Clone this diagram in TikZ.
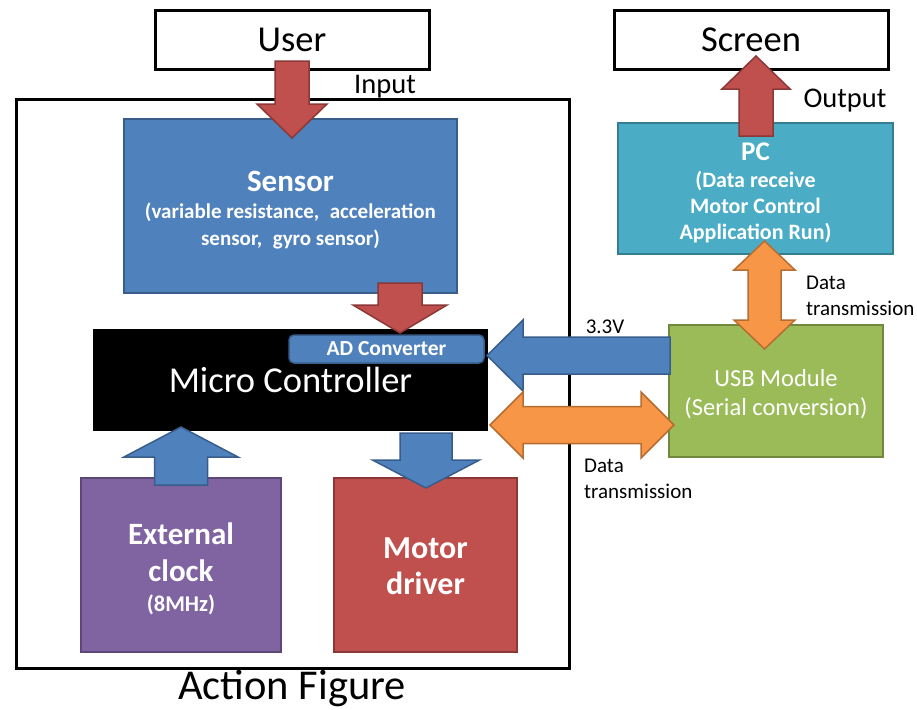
\documentclass[tikz,border=0pt]{standalone}
\usepackage{fontspec}
\setmainfont{Carlito}
\usetikzlibrary{calc,shadows}

\definecolor{blaufill}{HTML}{4F81BD}
\definecolor{blaurand}{HTML}{385D8A}
\definecolor{rotfill}{HTML}{C0504D}
\definecolor{rotrand}{HTML}{8C3836}
\definecolor{lilafill}{HTML}{8064A2}
\definecolor{lilarand}{HTML}{5C4776}
\definecolor{gruenfill}{HTML}{9BBB59}
\definecolor{gruenrand}{HTML}{71893F}
\definecolor{tuerkisfill}{HTML}{4BACC6}
\definecolor{tuerkisrand}{HTML}{357D91}
\definecolor{orangefill}{HTML}{F79646}
\definecolor{orangerand}{HTML}{B66D31}

\newcommand{\gross}{\fontsize{31}{37}\selectfont}

% Blockpfeil: [Stil]{Anfang}{Spitze}{halbe Schaftbreite}{halbe Kopfbreite}{Kopflaenge}
\newcommand{\blockpfeil}[6][]{%
  \coordinate (bp-a) at #2;
  \coordinate (bp-b) at #3;
  \coordinate (bp-h) at ($(bp-b)!#6!(bp-a)$);
  \draw[#1] ($(bp-a)!#4!90:(bp-b)$) -- ($(bp-h)!#4!90:(bp-b)$) -- ($(bp-h)!#5!90:(bp-b)$)
    -- (bp-b) -- ($(bp-h)!#5!-90:(bp-b)$) -- ($(bp-h)!#4!-90:(bp-b)$) -- ($(bp-a)!#4!-90:(bp-b)$) -- cycle;
}
% Doppelpfeil: [Stil]{Spitze 1}{Spitze 2}{halbe Schaftbreite}{halbe Kopfbreite}{Kopflaenge}
\newcommand{\doppelpfeil}[6][]{%
  \coordinate (dp-a) at #2;
  \coordinate (dp-b) at #3;
  \coordinate (dp-h) at ($(dp-a)!#6!(dp-b)$);
  \coordinate (dp-k) at ($(dp-b)!#6!(dp-a)$);
  \draw[#1] (dp-a) -- ($(dp-h)!#5!90:(dp-b)$) -- ($(dp-h)!#4!90:(dp-b)$) -- ($(dp-k)!#4!90:(dp-b)$)
    -- ($(dp-k)!#5!90:(dp-b)$) -- (dp-b) -- ($(dp-k)!#5!-90:(dp-b)$) -- ($(dp-k)!#4!-90:(dp-b)$)
    -- ($(dp-h)!#4!-90:(dp-b)$) -- ($(dp-h)!#5!-90:(dp-b)$) -- cycle;
}

\tikzset{
  ausgabe/.style={draw=black, line width=3pt, outer sep=0pt, minimum width=274pt, minimum height=58pt,
    font=\fontsize{36.5}{42}\selectfont},
  baustein/.style={line width=1.5pt, outer sep=0pt, inner sep=0pt},
  inhalt/.style={text=white, align=center, inner sep=0pt},
  beschriftung/.style={inner sep=0pt, font=\fontsize{28.5}{34}\selectfont},
  klein/.style={inner sep=0pt, align=left, font=\fontsize{21}{26}\selectfont},
  rotpfeil/.style={fill=rotfill, draw=rotrand, line width=1.5pt},
  blaupfeil/.style={fill=blaufill, draw=blaurand, line width=1.5pt},
  orangepfeil/.style={fill=orangefill, draw=orangerand, line width=1.5pt}
}

\begin{document}
\begin{tikzpicture}[x=1pt, y=-1pt]
  \useasboundingbox (0,0) rectangle (917,709);

  % Rahmen der Action Figure
  \node[draw, line width=3pt, outer sep=0pt, minimum width=553pt, minimum height=569pt] (rahmen) at (292.5,383.5) {};
  \node[inner sep=0pt, font=\fontsize{42.5}{50}\selectfont] (titel) at (292,688) {Action Figure};

  % Ein- und Ausgabe
  \node[ausgabe] (user) at (292,40) {User};
  \node[ausgabe] (screen) at (751,40) {Screen};

  % Bausteine
  \node[baustein, fill=blaufill, draw=blaurand, minimum width=333pt, minimum height=174pt,
    label={[inhalt, yshift=-4.5pt, font=\bfseries\fontsize{21}{27}\selectfont]center:
      {\gross Sensor}\\(variable resistance,\enspace acceleration\\sensor,\enspace gyro sensor)}]
    (sensor) at (290.5,206) {};
  \node[baustein, fill=black, draw=white, line width=4pt, minimum width=399pt, minimum height=106pt,
    text=white, font=\fontsize{36.5}{42}\selectfont,
    drop shadow={shadow xshift=2pt, shadow yshift=-2pt, opacity=0.2}] (mcu) at (290.5,380) {Micro Controller};
  \node[baustein, fill=blaufill, draw=blaurand, rounded corners=5pt, minimum width=195pt, minimum height=28pt,
    text=white, font=\bfseries\fontsize{21.5}{24}\selectfont] (adc) at (386.5,349) {AD Converter};
  \node[baustein, fill=lilafill, draw=lilarand, minimum width=200pt, minimum height=174pt,
    label={[inhalt, yshift=-3.5pt, font=\bfseries\fontsize{22.5}{37}\selectfont]center:
      {\gross External}\\{\gross clock}\\[-7pt](8MHz)}]
    (clock) at (181,565) {};
  \node[baustein, fill=rotfill, draw=rotrand, minimum width=183pt, minimum height=174pt,
    label={[inhalt, yshift=-1.5pt, font=\bfseries\fontsize{32}{36}\selectfont]center:Motor\\driver}]
    (driver) at (425.5,565) {};
  \node[baustein, fill=gruenfill, draw=gruenrand, minimum width=214pt, minimum height=132pt,
    label={[inhalt, yshift=-3pt, font=\fontsize{24.5}{29}\selectfont]center:USB Module\\(Serial conversion)}]
    (usb) at (776,391) {};
  \node[baustein, fill=tuerkisfill, draw=tuerkisrand, minimum width=275pt, minimum height=131pt,
    label={[inhalt, yshift=-4pt, font=\bfseries\fontsize{22}{26}\selectfont]center:
      {\fontsize{27}{30}\selectfont PC}\\[1pt](Data receive\\Motor Control\\Application Run)}]
    (pc) at (755.5,188.5) {};

  % Beschriftungen
  \node[beschriftung] (input) at (385,87) {Input};
  \node[beschriftung] (output) at (845,101) {Output};
  \node[klein] (volt) at (605,327) {3.3V};
  \node[klein, anchor=west] (daten1) at (584,479) {Data\\transmission};
  \node[klein, anchor=west] (daten2) at (806,296) {Data\\transmission};

  % Pfeile
  \blockpfeil[rotpfeil]{($(user.south)+(0,-8)$)}{($(user.south |- sensor.north)+(0,19)$)}{17pt}{35pt}{34pt}
  \blockpfeil[rotpfeil]{($(sensor.south)+(109.5,-10)$)}{($(sensor.south)+(109.5,40)$)}{22pt}{47pt}{28pt}
  \blockpfeil[blaupfeil]{($(clock.north)+(0,7)$)}{($(clock.north |- mcu.south)+(0,-6)$)}{26.5pt}{57pt}{30pt}
  \blockpfeil[blaupfeil]{($(driver.north |- mcu.south)+(0.5,0)$)}{($(driver.north)+(0.5,10)$)}{26pt}{53.5pt}{28pt}
  \blockpfeil[blaupfeil]{($(usb.west)+(1,-35.5)$)}{($(mcu.east |- usb.west)+(-3,-35.5)$)}{18.5pt}{35.5pt}{36pt}
  \doppelpfeil[orangepfeil]{($(mcu.east)+(0,45)$)}{($(usb.west)+(5,34)$)}{18.5pt}{33pt}{33pt}
  \doppelpfeil[orangepfeil]{($(pc.south)+(9,-13)$)}{($(usb.north)+(-11.5,24)$)}{16.5pt}{30.5pt}{29pt}
  \blockpfeil[rotpfeil]{($(pc.north)+(0.5,13)$)}{($(screen.south)+(5,-13)$)}{17pt}{34pt}{33pt}
\end{tikzpicture}
\end{document}
